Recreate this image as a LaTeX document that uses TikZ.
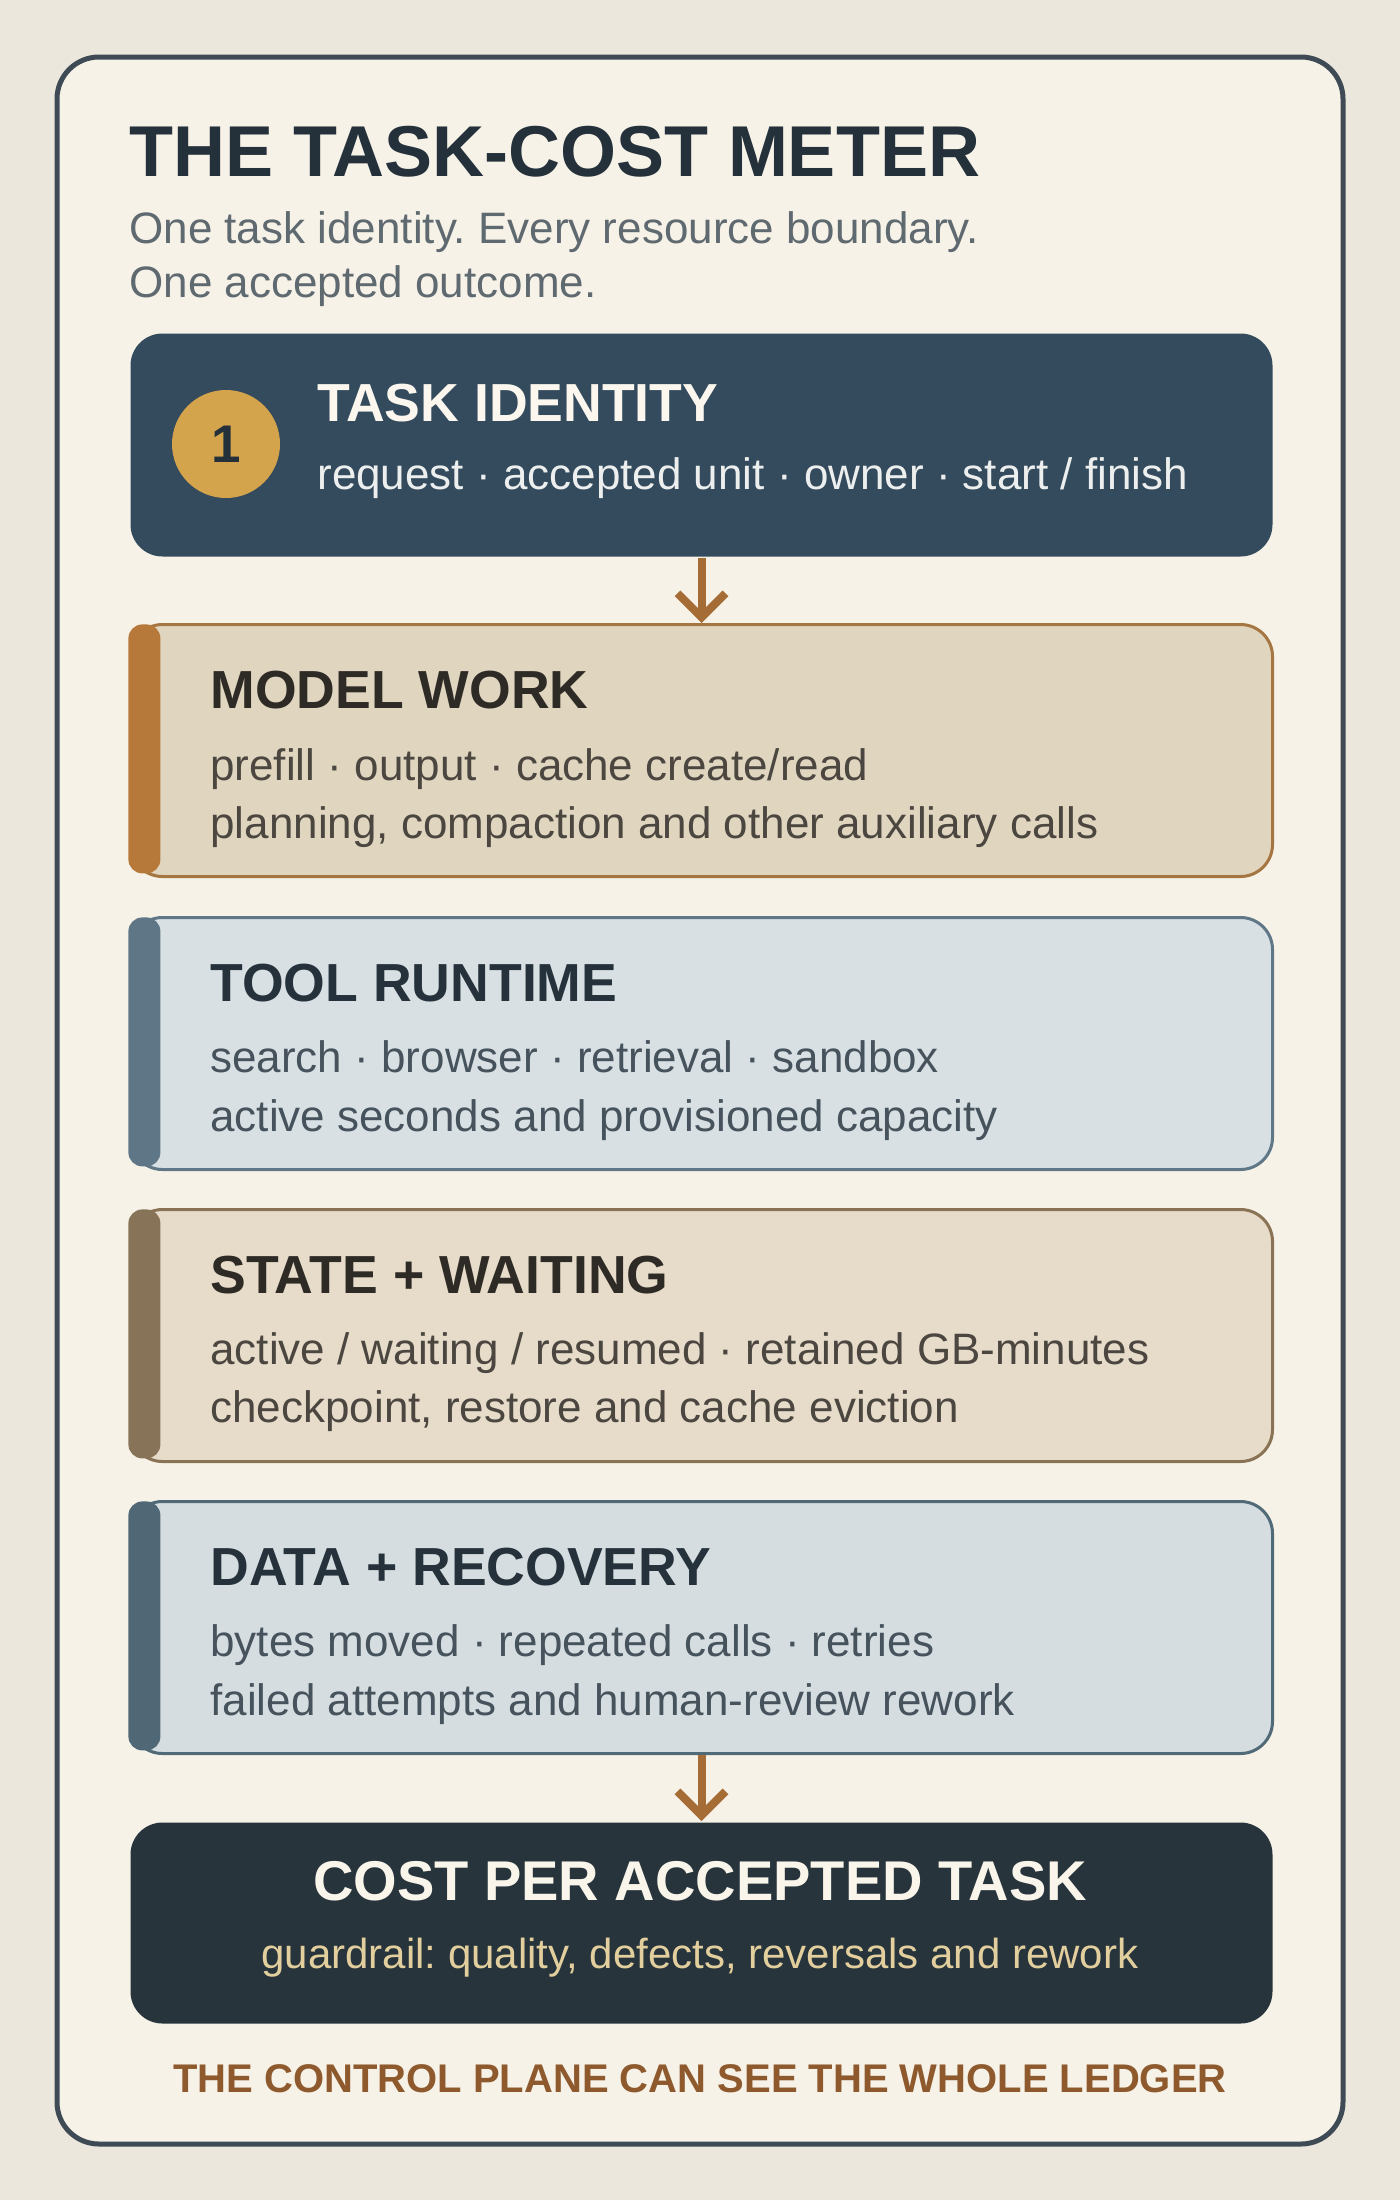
\documentclass[tikz,border=0pt]{standalone}
\usepackage{fontspec}
\setmainfont{Liberation Sans}
\usetikzlibrary{arrows.meta}
\definecolor{bgc}{HTML}{ECE7DC}
\definecolor{framefill}{HTML}{F6F2E8}
\definecolor{framedraw}{HTML}{3E4A54}
\definecolor{titlec}{HTML}{24303A}
\definecolor{subc}{HTML}{5F6970}
\definecolor{taskc}{HTML}{344B5E}
\definecolor{tasktitle}{HTML}{FBF7EE}
\definecolor{taskbody}{HTML}{EDEFEE}
\definecolor{badgec}{HTML}{D4A44C}
\definecolor{arrowc}{HTML}{A66C35}
\definecolor{modelfill}{HTML}{E0D5BF}
\definecolor{modeldraw}{HTML}{A57642}
\definecolor{modelbar}{HTML}{B7793A}
\definecolor{warmtitle}{HTML}{2E2B26}
\definecolor{warmbody}{HTML}{4B4640}
\definecolor{toolfill}{HTML}{D8E0E4}
\definecolor{tooldraw}{HTML}{5F7786}
\definecolor{toolbar}{HTML}{5E7686}
\definecolor{cooltitle}{HTML}{26323B}
\definecolor{coolbody}{HTML}{46535C}
\definecolor{statefill}{HTML}{E7DCCA}
\definecolor{statedraw}{HTML}{8A7255}
\definecolor{statebar}{HTML}{877358}
\definecolor{datafill}{HTML}{D5DDE1}
\definecolor{datadraw}{HTML}{506A77}
\definecolor{databar}{HTML}{506875}
\definecolor{costc}{HTML}{27343C}
\definecolor{costtitle}{HTML}{FAF5EA}
\definecolor{costbody}{HTML}{E2CF9D}
\definecolor{footc}{HTML}{8E5A2D}
\newcommand\pxsize[1]{\fontsize{\dimexpr #1pt/2\relax}{\dimexpr #1pt*6/10\relax}\selectfont}
\frenchspacing
\begin{document}
\begin{tikzpicture}[x=0.5pt,y=-0.5pt,
  box/.style={rectangle, rounded corners=16pt, line width=1.5pt, minimum width=571pt, minimum height=126pt, anchor=north west, inner sep=0pt},
  bar/.style={rectangle, rounded corners=7pt, minimum width=16pt, minimum height=124.5pt, anchor=north west, inner sep=0pt},
  txt/.style={anchor=base west, inner sep=0pt},
  head/.style={txt, font={\pxsize{53.6}\bfseries}},
  body/.style={txt, font={\pxsize{44}}},
  flow/.style={draw=arrowc, line width=4pt, -{Straight Barb[length=12pt,width=24pt,line cap=butt,line join=miter]}}
]
\useasboundingbox (0,0) rectangle (1400,2200);
\fill[bgc] (0,0) rectangle (1400,2200);
\draw[framedraw, fill=framefill, line width=2.5pt, rounded corners=21pt] (57,57) rectangle (1343,2144);

% heading
\node[txt, font={\pxsize{72}\bfseries}, text=titlec] (title) at (129,176) {THE TASK-COST METER};
\node[txt, font={\pxsize{44}}, text=subc] (sub1) at (129,243) {One task identity. Every resource boundary.};
\node[txt, font={\pxsize{44}}, text=subc] (sub2) at (129,297) {One accepted outcome.};

% task identity
\node[box, fill=taskc, minimum height=111.5pt] (task) at (129,332) {};
\node[circle, fill=badgec, minimum size=54pt, inner sep=0pt, text=titlec, font={\pxsize{53}\bfseries}] (badge) at (226,444) {1};
\node[head, text=tasktitle] (tasktitle) at (317,421) {TASK IDENTITY};
\node[body, text=taskbody] (taskbody) at (317,489) {request · accepted unit · owner · start / finish};

% model work
\node[box, fill=modelfill, draw=modeldraw] (model) at (129,623) {};
\node[bar, fill=modelbar] (modelbar) at (128,624) {};
\node[head, text=warmtitle] (modeltitle) at (210,708) {MODEL WORK};
\node[body, text=warmbody] (modelone) at (210,780) {prefill · output · cache create/read};
\node[body, text=warmbody] (modeltwo) at (210,838) {planning, compaction and other auxiliary calls};

% tool runtime
\node[box, fill=toolfill, draw=tooldraw] (tool) at (129,916) {};
\node[bar, fill=toolbar] (toolbar) at (128,917) {};
\node[head, text=cooltitle] (tooltitle) at (210,1001) {TOOL RUNTIME};
\node[body, text=coolbody] (toolone) at (210,1072) {search · browser · retrieval · sandbox};
\node[body, text=coolbody] (tooltwo) at (210,1131) {active seconds and provisioned capacity};

% state + waiting
\node[box, fill=statefill, draw=statedraw] (state) at (129,1208) {};
\node[bar, fill=statebar] (statebar) at (128,1209) {};
\node[head, text=warmtitle] (statetitle) at (210,1293) {STATE + WAITING};
\node[body, text=warmbody] (stateone) at (210,1364) {active / waiting / resumed · retained GB-minutes};
\node[body, text=warmbody] (statetwo) at (210,1422) {checkpoint, restore and cache eviction};

% data + recovery
\node[box, fill=datafill, draw=datadraw] (data) at (129,1500) {};
\node[bar, fill=databar] (databar) at (128,1501) {};
\node[head, text=cooltitle] (datatitle) at (210,1585) {DATA + RECOVERY};
\node[body, text=coolbody] (dataone) at (210,1656) {bytes moved · repeated calls · retries};
\node[body, text=coolbody] (datatwo) at (210,1715) {failed attempts and human-review rework};

% cost per accepted task
\node[box, fill=costc, minimum height=100.5pt] (cost) at (129,1821) {};
\node[anchor=base, inner sep=0pt, text=costtitle, font={\pxsize{56}\bfseries}] (costtitle) at (700,1900) {COST PER ACCEPTED TASK};
\node[anchor=base, inner sep=0pt, text=costbody, font={\pxsize{42}}] (costbody) at (700,1968) {guardrail: quality, defects, reversals and rework};

% footer
\node[anchor=base, inner sep=0pt, text=footc, font={\pxsize{40}\bfseries}] (footer) at (700,2092) {THE CONTROL PLANE CAN SEE THE WHOLE LEDGER};

% connectors
\draw[flow] (task.south) -- (model.north);
\draw[flow] (data.south) -- (cost.north);
\end{tikzpicture}
\end{document}
